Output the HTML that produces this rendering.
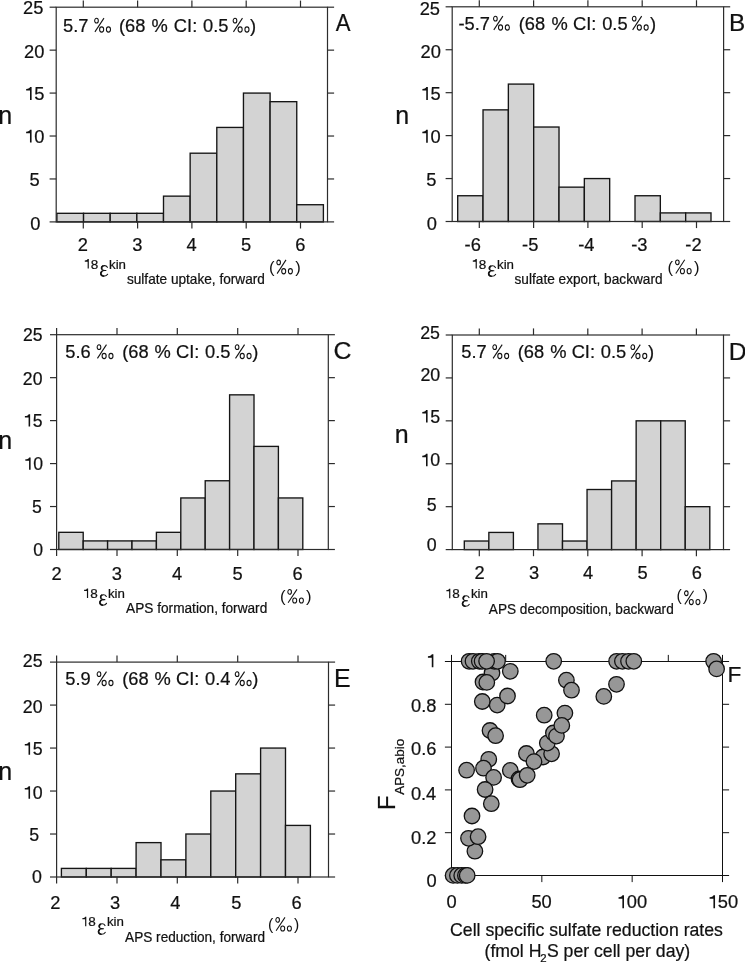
<!DOCTYPE html>
<html><head><meta charset="utf-8"><style>
html,body{margin:0;padding:0;background:#fff;}
svg{display:block;will-change:transform;}
text{font-family:"Liberation Sans", sans-serif;stroke:#111;stroke-width:0.22px;}
</style></head><body>
<svg width="745" height="963" viewBox="0 0 745 963">
<rect width="745" height="963" fill="#fff"/>
<rect x="56.90" y="213.31" width="26.65" height="8.59" fill="#d3d3d3" stroke="#151515" stroke-width="1.35"/>
<rect x="83.55" y="213.31" width="26.65" height="8.59" fill="#d3d3d3" stroke="#151515" stroke-width="1.35"/>
<rect x="110.20" y="213.31" width="26.65" height="8.59" fill="#d3d3d3" stroke="#151515" stroke-width="1.35"/>
<rect x="136.85" y="213.31" width="26.65" height="8.59" fill="#d3d3d3" stroke="#151515" stroke-width="1.35"/>
<rect x="163.50" y="196.14" width="26.65" height="25.76" fill="#d3d3d3" stroke="#151515" stroke-width="1.35"/>
<rect x="190.15" y="153.20" width="26.65" height="68.70" fill="#d3d3d3" stroke="#151515" stroke-width="1.35"/>
<rect x="216.80" y="127.43" width="26.65" height="94.47" fill="#d3d3d3" stroke="#151515" stroke-width="1.35"/>
<rect x="243.45" y="93.08" width="26.65" height="128.82" fill="#d3d3d3" stroke="#151515" stroke-width="1.35"/>
<rect x="270.10" y="101.67" width="26.65" height="120.23" fill="#d3d3d3" stroke="#151515" stroke-width="1.35"/>
<rect x="296.75" y="204.72" width="26.65" height="17.18" fill="#d3d3d3" stroke="#151515" stroke-width="1.35"/>
<rect x="56.20" y="7.20" width="271.30" height="214.70" fill="none" stroke="#2c2c2c" stroke-width="1.2"/>
<line x1="83.30" y1="7.20" x2="83.30" y2="0.60" stroke="#2c2c2c" stroke-width="1.2"/>
<line x1="137.60" y1="7.20" x2="137.60" y2="0.60" stroke="#2c2c2c" stroke-width="1.2"/>
<line x1="191.90" y1="7.20" x2="191.90" y2="0.60" stroke="#2c2c2c" stroke-width="1.2"/>
<line x1="246.20" y1="7.20" x2="246.20" y2="0.60" stroke="#2c2c2c" stroke-width="1.2"/>
<line x1="300.50" y1="7.20" x2="300.50" y2="0.60" stroke="#2c2c2c" stroke-width="1.2"/>
<line x1="83.30" y1="221.90" x2="83.30" y2="228.50" stroke="#2c2c2c" stroke-width="1.2"/>
<line x1="137.60" y1="221.90" x2="137.60" y2="228.50" stroke="#2c2c2c" stroke-width="1.2"/>
<line x1="191.90" y1="221.90" x2="191.90" y2="228.50" stroke="#2c2c2c" stroke-width="1.2"/>
<line x1="246.20" y1="221.90" x2="246.20" y2="228.50" stroke="#2c2c2c" stroke-width="1.2"/>
<line x1="300.50" y1="221.90" x2="300.50" y2="228.50" stroke="#2c2c2c" stroke-width="1.2"/>
<line x1="49.60" y1="221.90" x2="56.20" y2="221.90" stroke="#2c2c2c" stroke-width="1.2"/>
<line x1="327.50" y1="221.90" x2="334.10" y2="221.90" stroke="#2c2c2c" stroke-width="1.2"/>
<line x1="49.60" y1="178.96" x2="56.20" y2="178.96" stroke="#2c2c2c" stroke-width="1.2"/>
<line x1="327.50" y1="178.96" x2="334.10" y2="178.96" stroke="#2c2c2c" stroke-width="1.2"/>
<line x1="49.60" y1="136.02" x2="56.20" y2="136.02" stroke="#2c2c2c" stroke-width="1.2"/>
<line x1="327.50" y1="136.02" x2="334.10" y2="136.02" stroke="#2c2c2c" stroke-width="1.2"/>
<line x1="49.60" y1="93.08" x2="56.20" y2="93.08" stroke="#2c2c2c" stroke-width="1.2"/>
<line x1="327.50" y1="93.08" x2="334.10" y2="93.08" stroke="#2c2c2c" stroke-width="1.2"/>
<line x1="49.60" y1="50.14" x2="56.20" y2="50.14" stroke="#2c2c2c" stroke-width="1.2"/>
<line x1="327.50" y1="50.14" x2="334.10" y2="50.14" stroke="#2c2c2c" stroke-width="1.2"/>
<line x1="49.60" y1="7.20" x2="56.20" y2="7.20" stroke="#2c2c2c" stroke-width="1.2"/>
<line x1="327.50" y1="7.20" x2="334.10" y2="7.20" stroke="#2c2c2c" stroke-width="1.2"/>
<text x="23.12" y="14.41" font-size="18.30" fill="#111">25</text>
<text x="24.02" y="57.80" font-size="18.30" fill="#111">20</text>
<path d="M31.61,87.04 L31.61,99.91 L30.00,99.91 L30.00,90.52 L26.15,90.52 L26.15,88.96 C28.73,88.87 29.81,87.96 30.00,87.04 Z" fill="#111"/><text x="34.34" y="99.91" font-size="18.30" fill="#111">5</text>
<path d="M31.58,129.74 L31.58,142.60 L29.97,142.60 L29.97,133.22 L26.13,133.22 L26.13,131.66 C28.71,131.57 29.79,130.66 29.97,129.74 Z" fill="#111"/><text x="34.31" y="142.60" font-size="18.30" fill="#111">0</text>
<text x="29.38" y="185.91" font-size="18.30" fill="#111">5</text>
<text x="30.16" y="229.50" font-size="18.30" fill="#111">0</text>
<text x="-1.66" y="123.90" font-size="25.00" font-family='"Liberation Sans", sans-serif' fill="#111" >n</text>
<text x="77.76" y="250.80" font-size="18.30" fill="#111">2</text>
<text x="132.16" y="250.80" font-size="18.30" fill="#111">3</text>
<text x="186.42" y="250.80" font-size="18.30" fill="#111">4</text>
<text x="241.03" y="250.80" font-size="18.30" fill="#111">5</text>
<text x="295.25" y="250.80" font-size="18.30" fill="#111">6</text>
<path d="M88.82,259.11 L88.82,268.60 L87.63,268.60 L87.63,261.67 L84.80,261.67 L84.80,260.53 C86.70,260.46 87.50,259.78 87.63,259.11 Z" fill="#111"/><text x="90.84" y="268.60" font-size="13.50" fill="#111">8</text>
<g transform="translate(100.10,265.10) scale(1.000,0.983)" fill="none" stroke="#111" stroke-linecap="round"><path d="M7.3,2.3 C6.6,0.9 5.5,0.5 4.4,0.5 C2.6,0.5 1.3,1.5 1.35,2.9 C1.4,4.4 2.7,5.45 4.6,5.5 L5.8,5.55" stroke-width="1.15"/><path d="M4.6,5.5 C2.1,5.6 0.55,7 0.6,8.7 C0.65,10.4 2.0,11.2 3.7,11.2 C5.5,11.2 6.8,10.5 7.5,9.3" stroke-width="1.15"/><path d="M2.6,1.0 C1.6,1.7 1.3,2.6 1.55,3.5 M1.6,6.6 C0.8,7.4 0.7,8.7 0.9,9.3 C1.2,10.3 2.0,10.9 3.2,11.1" stroke-width="1.7"/></g>
<text x="109.00" y="268.60" font-size="13.30" font-family='"Liberation Sans", sans-serif' fill="#111" >kin</text>
<g transform="translate(127.30,283.90) scale(0.9755,1)"><text x="-0.39" y="0.00" font-size="14.00" font-family='"Liberation Sans", sans-serif' fill="#111" >sulfate uptake, forward</text></g>
<text x="269.07" y="272.76" font-size="16.64" font-family='"Liberation Sans", sans-serif' fill="#111" style="stroke-width:0">(</text>
<g transform="translate(276.30,259.60) scale(1.000,1.021)" fill="none" stroke="#111" stroke-width="1.05"><ellipse cx="2.35" cy="2.8" rx="1.8" ry="2.3"/><path d="M0.8,13.7 L9.7,0.3"/><ellipse cx="7.4" cy="11.4" rx="2.0" ry="2.55"/><ellipse cx="14.1" cy="11.4" rx="2.0" ry="2.55"/></g>
<text x="295.20" y="272.76" font-size="16.64" font-family='"Liberation Sans", sans-serif' fill="#111" style="stroke-width:0">)</text>
<text x="62.97" y="31.80" font-size="18.30" font-family='"Liberation Sans", sans-serif' fill="#111" >5.7</text>
<g transform="translate(94.10,17.80) scale(1.018,1.028)" fill="none" stroke="#111" stroke-width="1.05"><ellipse cx="2.35" cy="2.8" rx="1.8" ry="2.3"/><path d="M0.8,13.7 L9.7,0.3"/><ellipse cx="7.4" cy="11.4" rx="2.0" ry="2.55"/><ellipse cx="14.1" cy="11.4" rx="2.0" ry="2.55"/></g>
<text x="118.97" y="31.80" font-size="18.30" font-family='"Liberation Sans", sans-serif' fill="#111" >(68</text>
<text x="151.55" y="31.80" font-size="18.30" font-family='"Liberation Sans", sans-serif' fill="#111" >%</text>
<text x="173.87" y="31.80" font-size="18.30" font-family='"Liberation Sans", sans-serif' fill="#111" >CI:</text>
<text x="202.99" y="31.80" font-size="18.30" font-family='"Liberation Sans", sans-serif' fill="#111" >0.5</text>
<g transform="translate(232.60,17.80) scale(1.018,1.028)" fill="none" stroke="#111" stroke-width="1.05"><ellipse cx="2.35" cy="2.8" rx="1.8" ry="2.3"/><path d="M0.8,13.7 L9.7,0.3"/><ellipse cx="7.4" cy="11.4" rx="2.0" ry="2.55"/><ellipse cx="14.1" cy="11.4" rx="2.0" ry="2.55"/></g>
<text x="250.09" y="31.80" font-size="18.30" font-family='"Liberation Sans", sans-serif' fill="#111" >)</text>
<g transform="translate(335.70,30.80) scale(0.91,1)"><text x="-0.05" y="0.00" font-size="24.30" font-family='"Liberation Sans", sans-serif' fill="#111" stroke="#111" stroke-width="0.3">A</text></g>
<rect x="457.70" y="195.74" width="25.33" height="25.76" fill="#d3d3d3" stroke="#151515" stroke-width="1.35"/>
<rect x="483.03" y="109.86" width="25.33" height="111.64" fill="#d3d3d3" stroke="#151515" stroke-width="1.35"/>
<rect x="508.36" y="84.09" width="25.33" height="137.41" fill="#d3d3d3" stroke="#151515" stroke-width="1.35"/>
<rect x="533.69" y="127.03" width="25.33" height="94.47" fill="#d3d3d3" stroke="#151515" stroke-width="1.35"/>
<rect x="559.02" y="187.15" width="25.33" height="34.35" fill="#d3d3d3" stroke="#151515" stroke-width="1.35"/>
<rect x="584.35" y="178.56" width="25.33" height="42.94" fill="#d3d3d3" stroke="#151515" stroke-width="1.35"/>
<rect x="635.01" y="195.74" width="25.33" height="25.76" fill="#d3d3d3" stroke="#151515" stroke-width="1.35"/>
<rect x="660.34" y="212.91" width="25.33" height="8.59" fill="#d3d3d3" stroke="#151515" stroke-width="1.35"/>
<rect x="685.67" y="212.91" width="25.33" height="8.59" fill="#d3d3d3" stroke="#151515" stroke-width="1.35"/>
<rect x="452.20" y="6.80" width="271.40" height="214.70" fill="none" stroke="#2c2c2c" stroke-width="1.2"/>
<line x1="479.30" y1="6.80" x2="479.30" y2="0.20" stroke="#2c2c2c" stroke-width="1.2"/>
<line x1="533.60" y1="6.80" x2="533.60" y2="0.20" stroke="#2c2c2c" stroke-width="1.2"/>
<line x1="587.90" y1="6.80" x2="587.90" y2="0.20" stroke="#2c2c2c" stroke-width="1.2"/>
<line x1="642.20" y1="6.80" x2="642.20" y2="0.20" stroke="#2c2c2c" stroke-width="1.2"/>
<line x1="696.50" y1="6.80" x2="696.50" y2="0.20" stroke="#2c2c2c" stroke-width="1.2"/>
<line x1="479.30" y1="221.50" x2="479.30" y2="228.10" stroke="#2c2c2c" stroke-width="1.2"/>
<line x1="533.60" y1="221.50" x2="533.60" y2="228.10" stroke="#2c2c2c" stroke-width="1.2"/>
<line x1="587.90" y1="221.50" x2="587.90" y2="228.10" stroke="#2c2c2c" stroke-width="1.2"/>
<line x1="642.20" y1="221.50" x2="642.20" y2="228.10" stroke="#2c2c2c" stroke-width="1.2"/>
<line x1="696.50" y1="221.50" x2="696.50" y2="228.10" stroke="#2c2c2c" stroke-width="1.2"/>
<line x1="445.60" y1="221.50" x2="452.20" y2="221.50" stroke="#2c2c2c" stroke-width="1.2"/>
<line x1="723.60" y1="221.50" x2="730.20" y2="221.50" stroke="#2c2c2c" stroke-width="1.2"/>
<line x1="445.60" y1="178.56" x2="452.20" y2="178.56" stroke="#2c2c2c" stroke-width="1.2"/>
<line x1="723.60" y1="178.56" x2="730.20" y2="178.56" stroke="#2c2c2c" stroke-width="1.2"/>
<line x1="445.60" y1="135.62" x2="452.20" y2="135.62" stroke="#2c2c2c" stroke-width="1.2"/>
<line x1="723.60" y1="135.62" x2="730.20" y2="135.62" stroke="#2c2c2c" stroke-width="1.2"/>
<line x1="445.60" y1="92.68" x2="452.20" y2="92.68" stroke="#2c2c2c" stroke-width="1.2"/>
<line x1="723.60" y1="92.68" x2="730.20" y2="92.68" stroke="#2c2c2c" stroke-width="1.2"/>
<line x1="445.60" y1="49.74" x2="452.20" y2="49.74" stroke="#2c2c2c" stroke-width="1.2"/>
<line x1="723.60" y1="49.74" x2="730.20" y2="49.74" stroke="#2c2c2c" stroke-width="1.2"/>
<line x1="445.60" y1="6.80" x2="452.20" y2="6.80" stroke="#2c2c2c" stroke-width="1.2"/>
<line x1="723.60" y1="6.80" x2="730.20" y2="6.80" stroke="#2c2c2c" stroke-width="1.2"/>
<text x="419.70" y="14.71" font-size="18.30" fill="#111">25</text>
<text x="420.47" y="57.91" font-size="18.30" fill="#111">20</text>
<path d="M427.86,87.04 L427.86,99.91 L426.25,99.91 L426.25,90.52 L422.40,90.52 L422.40,88.96 C424.98,88.87 426.06,87.96 426.25,87.04 Z" fill="#111"/><text x="430.59" y="99.91" font-size="18.30" fill="#111">5</text>
<path d="M427.78,129.84 L427.78,142.71 L426.17,142.71 L426.17,133.32 L422.33,133.32 L422.33,131.76 C424.91,131.67 425.99,130.76 426.17,129.84 Z" fill="#111"/><text x="430.51" y="142.71" font-size="18.30" fill="#111">0</text>
<text x="426.13" y="185.91" font-size="18.30" fill="#111">5</text>
<text x="426.71" y="229.50" font-size="18.30" fill="#111">0</text>
<text x="395.14" y="123.80" font-size="25.00" font-family='"Liberation Sans", sans-serif' fill="#111" >n</text>
<text x="464.56" y="250.80" font-size="18.30" fill="#111">-6</text>
<text x="522.09" y="250.80" font-size="18.30" fill="#111">-5</text>
<text x="578.28" y="250.80" font-size="18.30" fill="#111">-4</text>
<text x="631.21" y="250.80" font-size="18.30" fill="#111">-3</text>
<text x="685.37" y="250.80" font-size="18.30" fill="#111">-2</text>
<path d="M476.82,259.11 L476.82,268.60 L475.64,268.60 L475.64,261.67 L472.80,261.67 L472.80,260.53 C474.70,260.46 475.50,259.78 475.64,259.11 Z" fill="#111"/><text x="478.84" y="268.60" font-size="13.50" fill="#111">8</text>
<g transform="translate(487.90,265.30) scale(1.025,0.983)" fill="none" stroke="#111" stroke-linecap="round"><path d="M7.3,2.3 C6.6,0.9 5.5,0.5 4.4,0.5 C2.6,0.5 1.3,1.5 1.35,2.9 C1.4,4.4 2.7,5.45 4.6,5.5 L5.8,5.55" stroke-width="1.15"/><path d="M4.6,5.5 C2.1,5.6 0.55,7 0.6,8.7 C0.65,10.4 2.0,11.2 3.7,11.2 C5.5,11.2 6.8,10.5 7.5,9.3" stroke-width="1.15"/><path d="M2.6,1.0 C1.6,1.7 1.3,2.6 1.55,3.5 M1.6,6.6 C0.8,7.4 0.7,8.7 0.9,9.3 C1.2,10.3 2.0,10.9 3.2,11.1" stroke-width="1.7"/></g>
<text x="497.00" y="268.60" font-size="13.30" font-family='"Liberation Sans", sans-serif' fill="#111" >kin</text>
<g transform="translate(514.90,284.40) scale(0.9757,1)"><text x="-0.39" y="0.00" font-size="14.00" font-family='"Liberation Sans", sans-serif' fill="#111" >sulfate export, backward</text></g>
<text x="667.57" y="272.66" font-size="16.64" font-family='"Liberation Sans", sans-serif' fill="#111" style="stroke-width:0">(</text>
<g transform="translate(675.00,259.50) scale(1.003,1.021)" fill="none" stroke="#111" stroke-width="1.05"><ellipse cx="2.35" cy="2.8" rx="1.8" ry="2.3"/><path d="M0.8,13.7 L9.7,0.3"/><ellipse cx="7.4" cy="11.4" rx="2.0" ry="2.55"/><ellipse cx="14.1" cy="11.4" rx="2.0" ry="2.55"/></g>
<text x="694.00" y="272.66" font-size="16.64" font-family='"Liberation Sans", sans-serif' fill="#111" style="stroke-width:0">)</text>
<text x="458.39" y="29.80" font-size="18.30" font-family='"Liberation Sans", sans-serif' fill="#111" >-5.7</text>
<g transform="translate(493.00,15.80) scale(1.018,1.028)" fill="none" stroke="#111" stroke-width="1.05"><ellipse cx="2.35" cy="2.8" rx="1.8" ry="2.3"/><path d="M0.8,13.7 L9.7,0.3"/><ellipse cx="7.4" cy="11.4" rx="2.0" ry="2.55"/><ellipse cx="14.1" cy="11.4" rx="2.0" ry="2.55"/></g>
<text x="518.67" y="29.80" font-size="18.30" font-family='"Liberation Sans", sans-serif' fill="#111" >(68</text>
<text x="551.55" y="29.80" font-size="18.30" font-family='"Liberation Sans", sans-serif' fill="#111" >%</text>
<text x="573.07" y="29.80" font-size="18.30" font-family='"Liberation Sans", sans-serif' fill="#111" >CI:</text>
<text x="602.19" y="29.80" font-size="18.30" font-family='"Liberation Sans", sans-serif' fill="#111" >0.5</text>
<g transform="translate(631.80,15.80) scale(1.018,1.028)" fill="none" stroke="#111" stroke-width="1.05"><ellipse cx="2.35" cy="2.8" rx="1.8" ry="2.3"/><path d="M0.8,13.7 L9.7,0.3"/><ellipse cx="7.4" cy="11.4" rx="2.0" ry="2.55"/><ellipse cx="14.1" cy="11.4" rx="2.0" ry="2.55"/></g>
<text x="649.99" y="29.80" font-size="18.30" font-family='"Liberation Sans", sans-serif' fill="#111" >)</text>
<g transform="translate(731.00,30.60) scale(1.0,1)"><text x="-1.99" y="0.00" font-size="24.30" font-family='"Liberation Sans", sans-serif' fill="#111" stroke="#111" stroke-width="0.3">B</text></g>
<rect x="58.80" y="532.32" width="24.40" height="17.18" fill="#d3d3d3" stroke="#151515" stroke-width="1.35"/>
<rect x="83.20" y="540.91" width="24.40" height="8.59" fill="#d3d3d3" stroke="#151515" stroke-width="1.35"/>
<rect x="107.60" y="540.91" width="24.40" height="8.59" fill="#d3d3d3" stroke="#151515" stroke-width="1.35"/>
<rect x="132.00" y="540.91" width="24.40" height="8.59" fill="#d3d3d3" stroke="#151515" stroke-width="1.35"/>
<rect x="156.40" y="532.32" width="24.40" height="17.18" fill="#d3d3d3" stroke="#151515" stroke-width="1.35"/>
<rect x="180.80" y="497.95" width="24.40" height="51.55" fill="#d3d3d3" stroke="#151515" stroke-width="1.35"/>
<rect x="205.20" y="480.76" width="24.40" height="68.74" fill="#d3d3d3" stroke="#151515" stroke-width="1.35"/>
<rect x="229.60" y="394.84" width="24.40" height="154.66" fill="#d3d3d3" stroke="#151515" stroke-width="1.35"/>
<rect x="254.00" y="446.40" width="24.40" height="103.10" fill="#d3d3d3" stroke="#151515" stroke-width="1.35"/>
<rect x="278.40" y="497.95" width="24.40" height="51.55" fill="#d3d3d3" stroke="#151515" stroke-width="1.35"/>
<rect x="56.60" y="334.70" width="271.70" height="214.80" fill="none" stroke="#2c2c2c" stroke-width="1.2"/>
<line x1="56.60" y1="334.70" x2="56.60" y2="328.10" stroke="#2c2c2c" stroke-width="1.2"/>
<line x1="117.00" y1="334.70" x2="117.00" y2="328.10" stroke="#2c2c2c" stroke-width="1.2"/>
<line x1="177.30" y1="334.70" x2="177.30" y2="328.10" stroke="#2c2c2c" stroke-width="1.2"/>
<line x1="237.70" y1="334.70" x2="237.70" y2="328.10" stroke="#2c2c2c" stroke-width="1.2"/>
<line x1="298.00" y1="334.70" x2="298.00" y2="328.10" stroke="#2c2c2c" stroke-width="1.2"/>
<line x1="56.60" y1="549.50" x2="56.60" y2="556.10" stroke="#2c2c2c" stroke-width="1.2"/>
<line x1="117.00" y1="549.50" x2="117.00" y2="556.10" stroke="#2c2c2c" stroke-width="1.2"/>
<line x1="177.30" y1="549.50" x2="177.30" y2="556.10" stroke="#2c2c2c" stroke-width="1.2"/>
<line x1="237.70" y1="549.50" x2="237.70" y2="556.10" stroke="#2c2c2c" stroke-width="1.2"/>
<line x1="298.00" y1="549.50" x2="298.00" y2="556.10" stroke="#2c2c2c" stroke-width="1.2"/>
<line x1="50.00" y1="549.50" x2="56.60" y2="549.50" stroke="#2c2c2c" stroke-width="1.2"/>
<line x1="328.30" y1="549.50" x2="334.90" y2="549.50" stroke="#2c2c2c" stroke-width="1.2"/>
<line x1="50.00" y1="506.54" x2="56.60" y2="506.54" stroke="#2c2c2c" stroke-width="1.2"/>
<line x1="328.30" y1="506.54" x2="334.90" y2="506.54" stroke="#2c2c2c" stroke-width="1.2"/>
<line x1="50.00" y1="463.58" x2="56.60" y2="463.58" stroke="#2c2c2c" stroke-width="1.2"/>
<line x1="328.30" y1="463.58" x2="334.90" y2="463.58" stroke="#2c2c2c" stroke-width="1.2"/>
<line x1="50.00" y1="420.62" x2="56.60" y2="420.62" stroke="#2c2c2c" stroke-width="1.2"/>
<line x1="328.30" y1="420.62" x2="334.90" y2="420.62" stroke="#2c2c2c" stroke-width="1.2"/>
<line x1="50.00" y1="377.66" x2="56.60" y2="377.66" stroke="#2c2c2c" stroke-width="1.2"/>
<line x1="328.30" y1="377.66" x2="334.90" y2="377.66" stroke="#2c2c2c" stroke-width="1.2"/>
<line x1="50.00" y1="334.70" x2="56.60" y2="334.70" stroke="#2c2c2c" stroke-width="1.2"/>
<line x1="328.30" y1="334.70" x2="334.90" y2="334.70" stroke="#2c2c2c" stroke-width="1.2"/>
<text x="22.89" y="340.56" font-size="17.60" fill="#111">25</text>
<text x="22.86" y="384.76" font-size="17.60" fill="#111">20</text>
<path d="M30.14,414.14 L30.14,426.51 L28.59,426.51 L28.59,417.48 L24.89,417.48 L24.89,415.99 C27.37,415.90 28.41,415.02 28.59,414.14 Z" fill="#111"/><text x="32.76" y="426.51" font-size="17.60" fill="#111">5</text>
<path d="M30.61,457.49 L30.61,469.86 L29.06,469.86 L29.06,460.83 L25.36,460.83 L25.36,459.34 C27.85,459.25 28.88,458.37 29.06,457.49 Z" fill="#111"/><text x="33.23" y="469.86" font-size="17.60" fill="#111">0</text>
<text x="32.07" y="513.46" font-size="17.60" fill="#111">5</text>
<text x="33.16" y="555.86" font-size="17.60" fill="#111">0</text>
<text x="-1.66" y="448.60" font-size="25.00" font-family='"Liberation Sans", sans-serif' fill="#111" >n</text>
<text x="51.41" y="580.00" font-size="18.30" fill="#111">2</text>
<text x="111.66" y="580.00" font-size="18.30" fill="#111">3</text>
<text x="171.97" y="580.00" font-size="18.30" fill="#111">4</text>
<text x="232.48" y="580.00" font-size="18.30" fill="#111">5</text>
<text x="292.50" y="580.00" font-size="18.30" fill="#111">6</text>
<path d="M88.12,588.41 L88.12,597.90 L86.93,597.90 L86.93,590.97 L84.10,590.97 L84.10,589.83 C86.00,589.76 86.80,589.08 86.93,588.41 Z" fill="#111"/><text x="90.14" y="597.90" font-size="13.50" fill="#111">8</text>
<g transform="translate(99.20,594.20) scale(0.975,0.983)" fill="none" stroke="#111" stroke-linecap="round"><path d="M7.3,2.3 C6.6,0.9 5.5,0.5 4.4,0.5 C2.6,0.5 1.3,1.5 1.35,2.9 C1.4,4.4 2.7,5.45 4.6,5.5 L5.8,5.55" stroke-width="1.15"/><path d="M4.6,5.5 C2.1,5.6 0.55,7 0.6,8.7 C0.65,10.4 2.0,11.2 3.7,11.2 C5.5,11.2 6.8,10.5 7.5,9.3" stroke-width="1.15"/><path d="M2.6,1.0 C1.6,1.7 1.3,2.6 1.55,3.5 M1.6,6.6 C0.8,7.4 0.7,8.7 0.9,9.3 C1.2,10.3 2.0,10.9 3.2,11.1" stroke-width="1.7"/></g>
<text x="107.90" y="597.90" font-size="13.30" font-family='"Liberation Sans", sans-serif' fill="#111" >kin</text>
<g transform="translate(126.10,613.00) scale(0.9757,1)"><text x="-0.03" y="0.00" font-size="14.00" font-family='"Liberation Sans", sans-serif' fill="#111" >APS formation, forward</text></g>
<text x="280.07" y="601.76" font-size="16.64" font-family='"Liberation Sans", sans-serif' fill="#111" style="stroke-width:0">(</text>
<g transform="translate(287.30,589.10) scale(1.000,1.000)" fill="none" stroke="#111" stroke-width="1.05"><ellipse cx="2.35" cy="2.8" rx="1.8" ry="2.3"/><path d="M0.8,13.7 L9.7,0.3"/><ellipse cx="7.4" cy="11.4" rx="2.0" ry="2.55"/><ellipse cx="14.1" cy="11.4" rx="2.0" ry="2.55"/></g>
<text x="306.00" y="601.76" font-size="16.64" font-family='"Liberation Sans", sans-serif' fill="#111" style="stroke-width:0">)</text>
<text x="65.27" y="358.30" font-size="18.30" font-family='"Liberation Sans", sans-serif' fill="#111" >5.6</text>
<g transform="translate(96.60,344.30) scale(1.018,1.028)" fill="none" stroke="#111" stroke-width="1.05"><ellipse cx="2.35" cy="2.8" rx="1.8" ry="2.3"/><path d="M0.8,13.7 L9.7,0.3"/><ellipse cx="7.4" cy="11.4" rx="2.0" ry="2.55"/><ellipse cx="14.1" cy="11.4" rx="2.0" ry="2.55"/></g>
<text x="122.27" y="358.30" font-size="18.30" font-family='"Liberation Sans", sans-serif' fill="#111" >(68</text>
<text x="154.45" y="358.30" font-size="18.30" font-family='"Liberation Sans", sans-serif' fill="#111" >%</text>
<text x="175.97" y="358.30" font-size="18.30" font-family='"Liberation Sans", sans-serif' fill="#111" >CI:</text>
<text x="205.09" y="358.30" font-size="18.30" font-family='"Liberation Sans", sans-serif' fill="#111" >0.5</text>
<g transform="translate(234.70,344.30) scale(1.018,1.028)" fill="none" stroke="#111" stroke-width="1.05"><ellipse cx="2.35" cy="2.8" rx="1.8" ry="2.3"/><path d="M0.8,13.7 L9.7,0.3"/><ellipse cx="7.4" cy="11.4" rx="2.0" ry="2.55"/><ellipse cx="14.1" cy="11.4" rx="2.0" ry="2.55"/></g>
<text x="252.19" y="358.30" font-size="18.30" font-family='"Liberation Sans", sans-serif' fill="#111" >)</text>
<g transform="translate(334.70,359.40) scale(1.0,1)"><text x="-1.26" y="0.00" font-size="24.80" font-family='"Liberation Sans", sans-serif' fill="#111" stroke="#111" stroke-width="0.3">C</text></g>
<rect x="464.30" y="541.02" width="24.55" height="8.58" fill="#d3d3d3" stroke="#151515" stroke-width="1.35"/>
<rect x="488.85" y="532.43" width="24.55" height="17.17" fill="#d3d3d3" stroke="#151515" stroke-width="1.35"/>
<rect x="537.95" y="523.85" width="24.55" height="25.75" fill="#d3d3d3" stroke="#151515" stroke-width="1.35"/>
<rect x="562.50" y="541.02" width="24.55" height="8.58" fill="#d3d3d3" stroke="#151515" stroke-width="1.35"/>
<rect x="587.05" y="489.51" width="24.55" height="60.09" fill="#d3d3d3" stroke="#151515" stroke-width="1.35"/>
<rect x="611.60" y="480.93" width="24.55" height="68.67" fill="#d3d3d3" stroke="#151515" stroke-width="1.35"/>
<rect x="636.15" y="420.84" width="24.55" height="128.76" fill="#d3d3d3" stroke="#151515" stroke-width="1.35"/>
<rect x="660.70" y="420.84" width="24.55" height="128.76" fill="#d3d3d3" stroke="#151515" stroke-width="1.35"/>
<rect x="685.25" y="506.68" width="24.55" height="42.92" fill="#d3d3d3" stroke="#151515" stroke-width="1.35"/>
<rect x="452.30" y="335.00" width="271.20" height="214.60" fill="none" stroke="#2c2c2c" stroke-width="1.2"/>
<line x1="479.30" y1="335.00" x2="479.30" y2="328.40" stroke="#2c2c2c" stroke-width="1.2"/>
<line x1="533.50" y1="335.00" x2="533.50" y2="328.40" stroke="#2c2c2c" stroke-width="1.2"/>
<line x1="587.80" y1="335.00" x2="587.80" y2="328.40" stroke="#2c2c2c" stroke-width="1.2"/>
<line x1="642.10" y1="335.00" x2="642.10" y2="328.40" stroke="#2c2c2c" stroke-width="1.2"/>
<line x1="696.40" y1="335.00" x2="696.40" y2="328.40" stroke="#2c2c2c" stroke-width="1.2"/>
<line x1="479.30" y1="549.60" x2="479.30" y2="556.20" stroke="#2c2c2c" stroke-width="1.2"/>
<line x1="533.50" y1="549.60" x2="533.50" y2="556.20" stroke="#2c2c2c" stroke-width="1.2"/>
<line x1="587.80" y1="549.60" x2="587.80" y2="556.20" stroke="#2c2c2c" stroke-width="1.2"/>
<line x1="642.10" y1="549.60" x2="642.10" y2="556.20" stroke="#2c2c2c" stroke-width="1.2"/>
<line x1="696.40" y1="549.60" x2="696.40" y2="556.20" stroke="#2c2c2c" stroke-width="1.2"/>
<line x1="445.70" y1="549.60" x2="452.30" y2="549.60" stroke="#2c2c2c" stroke-width="1.2"/>
<line x1="723.50" y1="549.60" x2="730.10" y2="549.60" stroke="#2c2c2c" stroke-width="1.2"/>
<line x1="445.70" y1="506.68" x2="452.30" y2="506.68" stroke="#2c2c2c" stroke-width="1.2"/>
<line x1="723.50" y1="506.68" x2="730.10" y2="506.68" stroke="#2c2c2c" stroke-width="1.2"/>
<line x1="445.70" y1="463.76" x2="452.30" y2="463.76" stroke="#2c2c2c" stroke-width="1.2"/>
<line x1="723.50" y1="463.76" x2="730.10" y2="463.76" stroke="#2c2c2c" stroke-width="1.2"/>
<line x1="445.70" y1="420.84" x2="452.30" y2="420.84" stroke="#2c2c2c" stroke-width="1.2"/>
<line x1="723.50" y1="420.84" x2="730.10" y2="420.84" stroke="#2c2c2c" stroke-width="1.2"/>
<line x1="445.70" y1="377.92" x2="452.30" y2="377.92" stroke="#2c2c2c" stroke-width="1.2"/>
<line x1="723.50" y1="377.92" x2="730.10" y2="377.92" stroke="#2c2c2c" stroke-width="1.2"/>
<line x1="445.70" y1="335.00" x2="452.30" y2="335.00" stroke="#2c2c2c" stroke-width="1.2"/>
<line x1="723.50" y1="335.00" x2="730.10" y2="335.00" stroke="#2c2c2c" stroke-width="1.2"/>
<text x="420.23" y="339.33" font-size="17.80" fill="#111">25</text>
<text x="420.40" y="381.33" font-size="17.80" fill="#111">20</text>
<path d="M427.60,410.02 L427.60,422.53 L426.03,422.53 L426.03,413.40 L422.29,413.40 L422.29,411.89 C424.80,411.80 425.85,410.91 426.03,410.02 Z" fill="#111"/><text x="430.25" y="422.53" font-size="17.80" fill="#111">5</text>
<path d="M427.57,453.82 L427.57,466.33 L426.01,466.33 L426.01,457.20 L422.27,457.20 L422.27,455.69 C424.78,455.60 425.83,454.71 426.01,453.82 Z" fill="#111"/><text x="430.23" y="466.33" font-size="17.80" fill="#111">0</text>
<text x="426.67" y="510.73" font-size="17.80" fill="#111">5</text>
<text x="426.65" y="551.03" font-size="17.80" fill="#111">0</text>
<text x="394.64" y="442.60" font-size="25.00" font-family='"Liberation Sans", sans-serif' fill="#111" >n</text>
<text x="474.61" y="579.30" font-size="18.30" fill="#111">2</text>
<text x="528.96" y="579.30" font-size="18.30" fill="#111">3</text>
<text x="582.97" y="579.30" font-size="18.30" fill="#111">4</text>
<text x="637.58" y="579.30" font-size="18.30" fill="#111">5</text>
<text x="691.75" y="579.30" font-size="18.30" fill="#111">6</text>
<path d="M450.32,588.71 L450.32,598.20 L449.14,598.20 L449.14,591.27 L446.30,591.27 L446.30,590.13 C448.20,590.06 449.00,589.38 449.14,588.71 Z" fill="#111"/><text x="452.34" y="598.20" font-size="13.50" fill="#111">8</text>
<g transform="translate(461.80,595.30) scale(0.987,0.983)" fill="none" stroke="#111" stroke-linecap="round"><path d="M7.3,2.3 C6.6,0.9 5.5,0.5 4.4,0.5 C2.6,0.5 1.3,1.5 1.35,2.9 C1.4,4.4 2.7,5.45 4.6,5.5 L5.8,5.55" stroke-width="1.15"/><path d="M4.6,5.5 C2.1,5.6 0.55,7 0.6,8.7 C0.65,10.4 2.0,11.2 3.7,11.2 C5.5,11.2 6.8,10.5 7.5,9.3" stroke-width="1.15"/><path d="M2.6,1.0 C1.6,1.7 1.3,2.6 1.55,3.5 M1.6,6.6 C0.8,7.4 0.7,8.7 0.9,9.3 C1.2,10.3 2.0,10.9 3.2,11.1" stroke-width="1.7"/></g>
<text x="470.90" y="598.20" font-size="13.30" font-family='"Liberation Sans", sans-serif' fill="#111" >kin</text>
<g transform="translate(488.80,613.70) scale(0.9749,1)"><text x="-0.03" y="0.00" font-size="14.00" font-family='"Liberation Sans", sans-serif' fill="#111" >APS decomposition, backward</text></g>
<text x="676.62" y="600.53" font-size="15.78" font-family='"Liberation Sans", sans-serif' fill="#111" style="stroke-width:0">(</text>
<g transform="translate(684.00,590.40) scale(0.988,1.021)" fill="none" stroke="#111" stroke-width="1.05"><ellipse cx="2.35" cy="2.8" rx="1.8" ry="2.3"/><path d="M0.8,13.7 L9.7,0.3"/><ellipse cx="7.4" cy="11.4" rx="2.0" ry="2.55"/><ellipse cx="14.1" cy="11.4" rx="2.0" ry="2.55"/></g>
<text x="702.71" y="600.53" font-size="15.78" font-family='"Liberation Sans", sans-serif' fill="#111" style="stroke-width:0">)</text>
<text x="461.27" y="358.30" font-size="18.30" font-family='"Liberation Sans", sans-serif' fill="#111" >5.7</text>
<g transform="translate(492.30,344.30) scale(1.018,1.028)" fill="none" stroke="#111" stroke-width="1.05"><ellipse cx="2.35" cy="2.8" rx="1.8" ry="2.3"/><path d="M0.8,13.7 L9.7,0.3"/><ellipse cx="7.4" cy="11.4" rx="2.0" ry="2.55"/><ellipse cx="14.1" cy="11.4" rx="2.0" ry="2.55"/></g>
<text x="517.67" y="358.30" font-size="18.30" font-family='"Liberation Sans", sans-serif' fill="#111" >(68</text>
<text x="550.15" y="358.30" font-size="18.30" font-family='"Liberation Sans", sans-serif' fill="#111" >%</text>
<text x="571.67" y="358.30" font-size="18.30" font-family='"Liberation Sans", sans-serif' fill="#111" >CI:</text>
<text x="600.79" y="358.30" font-size="18.30" font-family='"Liberation Sans", sans-serif' fill="#111" >0.5</text>
<g transform="translate(630.40,344.30) scale(1.018,1.028)" fill="none" stroke="#111" stroke-width="1.05"><ellipse cx="2.35" cy="2.8" rx="1.8" ry="2.3"/><path d="M0.8,13.7 L9.7,0.3"/><ellipse cx="7.4" cy="11.4" rx="2.0" ry="2.55"/><ellipse cx="14.1" cy="11.4" rx="2.0" ry="2.55"/></g>
<text x="647.89" y="358.30" font-size="18.30" font-family='"Liberation Sans", sans-serif' fill="#111" >)</text>
<g transform="translate(730.80,359.60) scale(1.0,1)"><text x="-2.02" y="0.00" font-size="24.60" font-family='"Liberation Sans", sans-serif' fill="#111" stroke="#111" stroke-width="0.3">D</text></g>
<rect x="61.40" y="868.40" width="24.90" height="8.60" fill="#d3d3d3" stroke="#151515" stroke-width="1.35"/>
<rect x="86.30" y="868.40" width="24.90" height="8.60" fill="#d3d3d3" stroke="#151515" stroke-width="1.35"/>
<rect x="111.20" y="868.40" width="24.90" height="8.60" fill="#d3d3d3" stroke="#151515" stroke-width="1.35"/>
<rect x="136.10" y="842.62" width="24.90" height="34.38" fill="#d3d3d3" stroke="#151515" stroke-width="1.35"/>
<rect x="161.00" y="859.81" width="24.90" height="17.19" fill="#d3d3d3" stroke="#151515" stroke-width="1.35"/>
<rect x="185.90" y="834.02" width="24.90" height="42.98" fill="#d3d3d3" stroke="#151515" stroke-width="1.35"/>
<rect x="210.80" y="791.04" width="24.90" height="85.96" fill="#d3d3d3" stroke="#151515" stroke-width="1.35"/>
<rect x="235.70" y="773.85" width="24.90" height="103.15" fill="#d3d3d3" stroke="#151515" stroke-width="1.35"/>
<rect x="260.60" y="748.06" width="24.90" height="128.94" fill="#d3d3d3" stroke="#151515" stroke-width="1.35"/>
<rect x="285.50" y="825.42" width="24.90" height="51.58" fill="#d3d3d3" stroke="#151515" stroke-width="1.35"/>
<rect x="56.60" y="662.10" width="271.90" height="214.90" fill="none" stroke="#2c2c2c" stroke-width="1.2"/>
<line x1="56.60" y1="662.10" x2="56.60" y2="655.50" stroke="#2c2c2c" stroke-width="1.2"/>
<line x1="117.00" y1="662.10" x2="117.00" y2="655.50" stroke="#2c2c2c" stroke-width="1.2"/>
<line x1="177.30" y1="662.10" x2="177.30" y2="655.50" stroke="#2c2c2c" stroke-width="1.2"/>
<line x1="237.70" y1="662.10" x2="237.70" y2="655.50" stroke="#2c2c2c" stroke-width="1.2"/>
<line x1="298.00" y1="662.10" x2="298.00" y2="655.50" stroke="#2c2c2c" stroke-width="1.2"/>
<line x1="56.60" y1="877.00" x2="56.60" y2="883.60" stroke="#2c2c2c" stroke-width="1.2"/>
<line x1="117.00" y1="877.00" x2="117.00" y2="883.60" stroke="#2c2c2c" stroke-width="1.2"/>
<line x1="177.30" y1="877.00" x2="177.30" y2="883.60" stroke="#2c2c2c" stroke-width="1.2"/>
<line x1="237.70" y1="877.00" x2="237.70" y2="883.60" stroke="#2c2c2c" stroke-width="1.2"/>
<line x1="298.00" y1="877.00" x2="298.00" y2="883.60" stroke="#2c2c2c" stroke-width="1.2"/>
<line x1="50.00" y1="877.00" x2="56.60" y2="877.00" stroke="#2c2c2c" stroke-width="1.2"/>
<line x1="328.50" y1="877.00" x2="335.10" y2="877.00" stroke="#2c2c2c" stroke-width="1.2"/>
<line x1="50.00" y1="834.02" x2="56.60" y2="834.02" stroke="#2c2c2c" stroke-width="1.2"/>
<line x1="328.50" y1="834.02" x2="335.10" y2="834.02" stroke="#2c2c2c" stroke-width="1.2"/>
<line x1="50.00" y1="791.04" x2="56.60" y2="791.04" stroke="#2c2c2c" stroke-width="1.2"/>
<line x1="328.50" y1="791.04" x2="335.10" y2="791.04" stroke="#2c2c2c" stroke-width="1.2"/>
<line x1="50.00" y1="748.06" x2="56.60" y2="748.06" stroke="#2c2c2c" stroke-width="1.2"/>
<line x1="328.50" y1="748.06" x2="335.10" y2="748.06" stroke="#2c2c2c" stroke-width="1.2"/>
<line x1="50.00" y1="705.08" x2="56.60" y2="705.08" stroke="#2c2c2c" stroke-width="1.2"/>
<line x1="328.50" y1="705.08" x2="335.10" y2="705.08" stroke="#2c2c2c" stroke-width="1.2"/>
<line x1="50.00" y1="662.10" x2="56.60" y2="662.10" stroke="#2c2c2c" stroke-width="1.2"/>
<line x1="328.50" y1="662.10" x2="335.10" y2="662.10" stroke="#2c2c2c" stroke-width="1.2"/>
<text x="22.78" y="667.43" font-size="17.80" fill="#111">25</text>
<text x="22.75" y="712.93" font-size="17.80" fill="#111">20</text>
<path d="M30.10,742.22 L30.10,754.73 L28.53,754.73 L28.53,745.60 L24.79,745.60 L24.79,744.09 C27.30,744.00 28.35,743.11 28.53,742.22 Z" fill="#111"/><text x="32.75" y="754.73" font-size="17.80" fill="#111">5</text>
<path d="M30.07,786.22 L30.07,798.73 L28.51,798.73 L28.51,789.60 L24.77,789.60 L24.77,788.09 C27.28,788.00 28.33,787.11 28.51,786.22 Z" fill="#111"/><text x="32.73" y="798.73" font-size="17.80" fill="#111">0</text>
<text x="29.37" y="840.63" font-size="17.80" fill="#111">5</text>
<text x="32.05" y="882.73" font-size="17.80" fill="#111">0</text>
<text x="-1.66" y="780.20" font-size="25.00" font-family='"Liberation Sans", sans-serif' fill="#111" >n</text>
<text x="50.21" y="908.80" font-size="18.30" fill="#111">2</text>
<text x="110.11" y="908.80" font-size="18.30" fill="#111">3</text>
<text x="170.22" y="908.80" font-size="18.30" fill="#111">4</text>
<text x="231.28" y="908.80" font-size="18.30" fill="#111">5</text>
<text x="291.60" y="908.80" font-size="18.30" fill="#111">6</text>
<path d="M86.32,916.71 L86.32,926.20 L85.13,926.20 L85.13,919.27 L82.30,919.27 L82.30,918.13 C84.20,918.06 85.00,917.38 85.13,916.71 Z" fill="#111"/><text x="88.34" y="926.20" font-size="13.50" fill="#111">8</text>
<g transform="translate(97.80,923.30) scale(0.987,0.983)" fill="none" stroke="#111" stroke-linecap="round"><path d="M7.3,2.3 C6.6,0.9 5.5,0.5 4.4,0.5 C2.6,0.5 1.3,1.5 1.35,2.9 C1.4,4.4 2.7,5.45 4.6,5.5 L5.8,5.55" stroke-width="1.15"/><path d="M4.6,5.5 C2.1,5.6 0.55,7 0.6,8.7 C0.65,10.4 2.0,11.2 3.7,11.2 C5.5,11.2 6.8,10.5 7.5,9.3" stroke-width="1.15"/><path d="M2.6,1.0 C1.6,1.7 1.3,2.6 1.55,3.5 M1.6,6.6 C0.8,7.4 0.7,8.7 0.9,9.3 C1.2,10.3 2.0,10.9 3.2,11.1" stroke-width="1.7"/></g>
<text x="106.90" y="926.20" font-size="13.30" font-family='"Liberation Sans", sans-serif' fill="#111" >kin</text>
<g transform="translate(125.10,941.70) scale(0.9732,1)"><text x="-0.03" y="0.00" font-size="14.00" font-family='"Liberation Sans", sans-serif' fill="#111" >APS reduction, forward</text></g>
<text x="268.12" y="929.93" font-size="15.78" font-family='"Liberation Sans", sans-serif' fill="#111" style="stroke-width:0">(</text>
<g transform="translate(275.30,917.10) scale(1.000,1.000)" fill="none" stroke="#111" stroke-width="1.05"><ellipse cx="2.35" cy="2.8" rx="1.8" ry="2.3"/><path d="M0.8,13.7 L9.7,0.3"/><ellipse cx="7.4" cy="11.4" rx="2.0" ry="2.55"/><ellipse cx="14.1" cy="11.4" rx="2.0" ry="2.55"/></g>
<text x="294.01" y="929.93" font-size="15.78" font-family='"Liberation Sans", sans-serif' fill="#111" style="stroke-width:0">)</text>
<text x="65.27" y="685.30" font-size="18.30" font-family='"Liberation Sans", sans-serif' fill="#111" >5.9</text>
<g transform="translate(96.60,671.30) scale(1.018,1.028)" fill="none" stroke="#111" stroke-width="1.05"><ellipse cx="2.35" cy="2.8" rx="1.8" ry="2.3"/><path d="M0.8,13.7 L9.7,0.3"/><ellipse cx="7.4" cy="11.4" rx="2.0" ry="2.55"/><ellipse cx="14.1" cy="11.4" rx="2.0" ry="2.55"/></g>
<text x="122.27" y="685.30" font-size="18.30" font-family='"Liberation Sans", sans-serif' fill="#111" >(68</text>
<text x="154.45" y="685.30" font-size="18.30" font-family='"Liberation Sans", sans-serif' fill="#111" >%</text>
<text x="175.97" y="685.30" font-size="18.30" font-family='"Liberation Sans", sans-serif' fill="#111" >CI:</text>
<text x="205.09" y="685.30" font-size="18.30" font-family='"Liberation Sans", sans-serif' fill="#111" >0.4</text>
<g transform="translate(234.70,671.30) scale(1.018,1.028)" fill="none" stroke="#111" stroke-width="1.05"><ellipse cx="2.35" cy="2.8" rx="1.8" ry="2.3"/><path d="M0.8,13.7 L9.7,0.3"/><ellipse cx="7.4" cy="11.4" rx="2.0" ry="2.55"/><ellipse cx="14.1" cy="11.4" rx="2.0" ry="2.55"/></g>
<text x="252.19" y="685.30" font-size="18.30" font-family='"Liberation Sans", sans-serif' fill="#111" >)</text>
<g transform="translate(336.00,687.10) scale(1.0,1)"><text x="-2.04" y="0.00" font-size="24.90" font-family='"Liberation Sans", sans-serif' fill="#111" stroke="#111" stroke-width="0.3">E</text></g>
<rect x="451.50" y="661.50" width="271.00" height="214.00" fill="none" stroke="#111111" stroke-width="1.0"/>
<line x1="451.50" y1="661.50" x2="451.50" y2="654.90" stroke="#111111" stroke-width="1.0"/>
<line x1="505.70" y1="661.50" x2="505.70" y2="654.90" stroke="#111111" stroke-width="1.0"/>
<line x1="614.10" y1="661.50" x2="614.10" y2="654.90" stroke="#111111" stroke-width="1.0"/>
<line x1="668.30" y1="661.50" x2="668.30" y2="654.90" stroke="#111111" stroke-width="1.0"/>
<line x1="722.50" y1="661.50" x2="722.50" y2="654.90" stroke="#111111" stroke-width="1.0"/>
<line x1="451.50" y1="875.50" x2="451.50" y2="882.10" stroke="#111111" stroke-width="1.0"/>
<line x1="541.83" y1="875.50" x2="541.83" y2="882.10" stroke="#111111" stroke-width="1.0"/>
<line x1="632.17" y1="875.50" x2="632.17" y2="882.10" stroke="#111111" stroke-width="1.0"/>
<line x1="722.50" y1="875.50" x2="722.50" y2="882.10" stroke="#111111" stroke-width="1.0"/>
<line x1="444.90" y1="875.50" x2="451.50" y2="875.50" stroke="#111111" stroke-width="1.0"/>
<line x1="722.50" y1="875.50" x2="729.10" y2="875.50" stroke="#111111" stroke-width="1.0"/>
<line x1="444.90" y1="832.70" x2="451.50" y2="832.70" stroke="#111111" stroke-width="1.0"/>
<line x1="722.50" y1="832.70" x2="729.10" y2="832.70" stroke="#111111" stroke-width="1.0"/>
<line x1="444.90" y1="789.90" x2="451.50" y2="789.90" stroke="#111111" stroke-width="1.0"/>
<line x1="722.50" y1="789.90" x2="729.10" y2="789.90" stroke="#111111" stroke-width="1.0"/>
<line x1="444.90" y1="747.10" x2="451.50" y2="747.10" stroke="#111111" stroke-width="1.0"/>
<line x1="722.50" y1="747.10" x2="729.10" y2="747.10" stroke="#111111" stroke-width="1.0"/>
<line x1="444.90" y1="704.30" x2="451.50" y2="704.30" stroke="#111111" stroke-width="1.0"/>
<line x1="722.50" y1="704.30" x2="729.10" y2="704.30" stroke="#111111" stroke-width="1.0"/>
<line x1="444.90" y1="661.50" x2="451.50" y2="661.50" stroke="#111111" stroke-width="1.0"/>
<line x1="722.50" y1="661.50" x2="729.10" y2="661.50" stroke="#111111" stroke-width="1.0"/>
<circle cx="492.00" cy="673.00" r="7.75" fill="#979797" stroke="#111" stroke-width="1.3"/>
<circle cx="510.30" cy="671.30" r="7.75" fill="#979797" stroke="#111" stroke-width="1.3"/>
<circle cx="469.10" cy="661.30" r="7.75" fill="#979797" stroke="#111" stroke-width="1.3"/>
<circle cx="473.00" cy="661.30" r="7.75" fill="#979797" stroke="#111" stroke-width="1.3"/>
<circle cx="479.30" cy="661.30" r="7.75" fill="#979797" stroke="#111" stroke-width="1.3"/>
<circle cx="482.10" cy="661.30" r="7.75" fill="#979797" stroke="#111" stroke-width="1.3"/>
<circle cx="494.30" cy="661.30" r="7.75" fill="#979797" stroke="#111" stroke-width="1.3"/>
<circle cx="497.50" cy="661.30" r="7.75" fill="#979797" stroke="#111" stroke-width="1.3"/>
<circle cx="486.60" cy="661.30" r="7.75" fill="#979797" stroke="#111" stroke-width="1.3"/>
<circle cx="553.70" cy="661.30" r="7.75" fill="#979797" stroke="#111" stroke-width="1.3"/>
<circle cx="616.60" cy="661.30" r="7.75" fill="#979797" stroke="#111" stroke-width="1.3"/>
<circle cx="622.40" cy="661.30" r="7.75" fill="#979797" stroke="#111" stroke-width="1.3"/>
<circle cx="628.50" cy="661.30" r="7.75" fill="#979797" stroke="#111" stroke-width="1.3"/>
<circle cx="633.80" cy="661.30" r="7.75" fill="#979797" stroke="#111" stroke-width="1.3"/>
<circle cx="713.60" cy="661.30" r="7.75" fill="#979797" stroke="#111" stroke-width="1.3"/>
<circle cx="483.00" cy="682.00" r="7.75" fill="#979797" stroke="#111" stroke-width="1.3"/>
<circle cx="486.80" cy="682.40" r="7.75" fill="#979797" stroke="#111" stroke-width="1.3"/>
<circle cx="482.30" cy="701.50" r="7.75" fill="#979797" stroke="#111" stroke-width="1.3"/>
<circle cx="497.20" cy="705.10" r="7.75" fill="#979797" stroke="#111" stroke-width="1.3"/>
<circle cx="507.50" cy="696.00" r="7.75" fill="#979797" stroke="#111" stroke-width="1.3"/>
<circle cx="490.00" cy="730.50" r="7.75" fill="#979797" stroke="#111" stroke-width="1.3"/>
<circle cx="495.60" cy="735.70" r="7.75" fill="#979797" stroke="#111" stroke-width="1.3"/>
<circle cx="488.75" cy="759.30" r="7.75" fill="#979797" stroke="#111" stroke-width="1.3"/>
<circle cx="483.50" cy="768.20" r="7.75" fill="#979797" stroke="#111" stroke-width="1.3"/>
<circle cx="466.60" cy="770.20" r="7.75" fill="#979797" stroke="#111" stroke-width="1.3"/>
<circle cx="493.60" cy="777.40" r="7.75" fill="#979797" stroke="#111" stroke-width="1.3"/>
<circle cx="485.10" cy="789.50" r="7.75" fill="#979797" stroke="#111" stroke-width="1.3"/>
<circle cx="491.30" cy="803.70" r="7.75" fill="#979797" stroke="#111" stroke-width="1.3"/>
<circle cx="472.00" cy="816.00" r="7.75" fill="#979797" stroke="#111" stroke-width="1.3"/>
<circle cx="474.90" cy="851.20" r="7.75" fill="#979797" stroke="#111" stroke-width="1.3"/>
<circle cx="468.50" cy="838.30" r="7.75" fill="#979797" stroke="#111" stroke-width="1.3"/>
<circle cx="478.10" cy="836.70" r="7.75" fill="#979797" stroke="#111" stroke-width="1.3"/>
<circle cx="453.10" cy="875.40" r="7.75" fill="#979797" stroke="#111" stroke-width="1.3"/>
<circle cx="457.40" cy="875.40" r="7.75" fill="#979797" stroke="#111" stroke-width="1.3"/>
<circle cx="461.70" cy="875.40" r="7.75" fill="#979797" stroke="#111" stroke-width="1.3"/>
<circle cx="465.40" cy="875.40" r="7.75" fill="#979797" stroke="#111" stroke-width="1.3"/>
<circle cx="467.20" cy="875.40" r="7.75" fill="#979797" stroke="#111" stroke-width="1.3"/>
<circle cx="566.40" cy="680.20" r="7.75" fill="#979797" stroke="#111" stroke-width="1.3"/>
<circle cx="571.50" cy="690.20" r="7.75" fill="#979797" stroke="#111" stroke-width="1.3"/>
<circle cx="616.50" cy="684.30" r="7.75" fill="#979797" stroke="#111" stroke-width="1.3"/>
<circle cx="603.80" cy="696.40" r="7.75" fill="#979797" stroke="#111" stroke-width="1.3"/>
<circle cx="716.60" cy="668.90" r="7.75" fill="#979797" stroke="#111" stroke-width="1.3"/>
<circle cx="544.20" cy="715.20" r="7.75" fill="#979797" stroke="#111" stroke-width="1.3"/>
<circle cx="564.90" cy="713.10" r="7.75" fill="#979797" stroke="#111" stroke-width="1.3"/>
<circle cx="543.00" cy="757.00" r="7.75" fill="#979797" stroke="#111" stroke-width="1.3"/>
<circle cx="551.60" cy="753.80" r="7.75" fill="#979797" stroke="#111" stroke-width="1.3"/>
<circle cx="547.30" cy="743.10" r="7.75" fill="#979797" stroke="#111" stroke-width="1.3"/>
<circle cx="553.40" cy="733.00" r="7.75" fill="#979797" stroke="#111" stroke-width="1.3"/>
<circle cx="556.50" cy="736.10" r="7.75" fill="#979797" stroke="#111" stroke-width="1.3"/>
<circle cx="561.80" cy="725.40" r="7.75" fill="#979797" stroke="#111" stroke-width="1.3"/>
<circle cx="526.40" cy="753.50" r="7.75" fill="#979797" stroke="#111" stroke-width="1.3"/>
<circle cx="534.00" cy="761.60" r="7.75" fill="#979797" stroke="#111" stroke-width="1.3"/>
<circle cx="510.30" cy="770.40" r="7.75" fill="#979797" stroke="#111" stroke-width="1.3"/>
<circle cx="519.00" cy="779.00" r="7.75" fill="#979797" stroke="#111" stroke-width="1.3"/>
<circle cx="520.00" cy="779.70" r="7.75" fill="#979797" stroke="#111" stroke-width="1.3"/>
<circle cx="527.20" cy="775.30" r="7.75" fill="#979797" stroke="#111" stroke-width="1.3"/>
<text x="426.51" y="887.11" font-size="18.30" fill="#111">0</text>
<text x="411.08" y="843.80" font-size="18.30" fill="#111">0.2</text>
<text x="410.89" y="799.80" font-size="18.30" fill="#111">0.4</text>
<text x="411.02" y="754.61" font-size="18.30" fill="#111">0.6</text>
<text x="411.02" y="711.61" font-size="18.30" fill="#111">0.8</text>
<path d="M433.38,654.34 L433.38,667.20 L431.77,667.20 L431.77,657.82 L427.92,657.82 L427.92,656.26 C430.50,656.17 431.58,655.26 431.77,654.34 Z" fill="#111"/>
<text x="446.41" y="908.20" font-size="18.30" fill="#111">0</text>
<text x="531.46" y="908.20" font-size="18.30" fill="#111">50</text>
<path d="M623.99,895.34 L623.99,908.20 L622.38,908.20 L622.38,898.81 L618.54,898.81 L618.54,897.26 C621.12,897.17 622.20,896.25 622.38,895.34 Z" fill="#111"/><text x="626.72" y="908.20" font-size="18.30" fill="#111">00</text>
<path d="M715.04,895.34 L715.04,908.20 L713.43,908.20 L713.43,898.81 L709.59,898.81 L709.59,897.26 C712.17,897.17 713.25,896.25 713.43,895.34 Z" fill="#111"/><text x="717.77" y="908.20" font-size="18.30" fill="#111">50</text>
<text x="450.10" y="935.50" font-size="17.67" font-family='"Liberation Sans", sans-serif' fill="#111" >Cell specific sulfate reduction rates</text>
<text x="484.50" y="957.40" font-size="17.67" font-family='"Liberation Sans", sans-serif' fill="#111" >(fmol H</text>
<text x="540.33" y="962.40" font-size="11.40" font-family='"Liberation Sans", sans-serif' fill="#111" >2</text>
<text x="546.90" y="957.40" font-size="17.67" font-family='"Liberation Sans", sans-serif' fill="#111" >S per cell per day)</text>
<g transform="translate(394.6,808.2) rotate(-90)"><text x="-1.93" y="0.00" font-size="23.50" font-family='"Liberation Sans", sans-serif' fill="#111" >F</text></g>
<g transform="translate(404.0,794.8) rotate(-90)"><text x="-0.03" y="0.00" font-size="13.43" font-family='"Liberation Sans", sans-serif' fill="#111" >APS,abio</text></g>
<text x="727.44" y="681.60" font-size="22.70" font-family='"Liberation Sans", sans-serif' fill="#111" >F</text>
</svg>
</body></html>
